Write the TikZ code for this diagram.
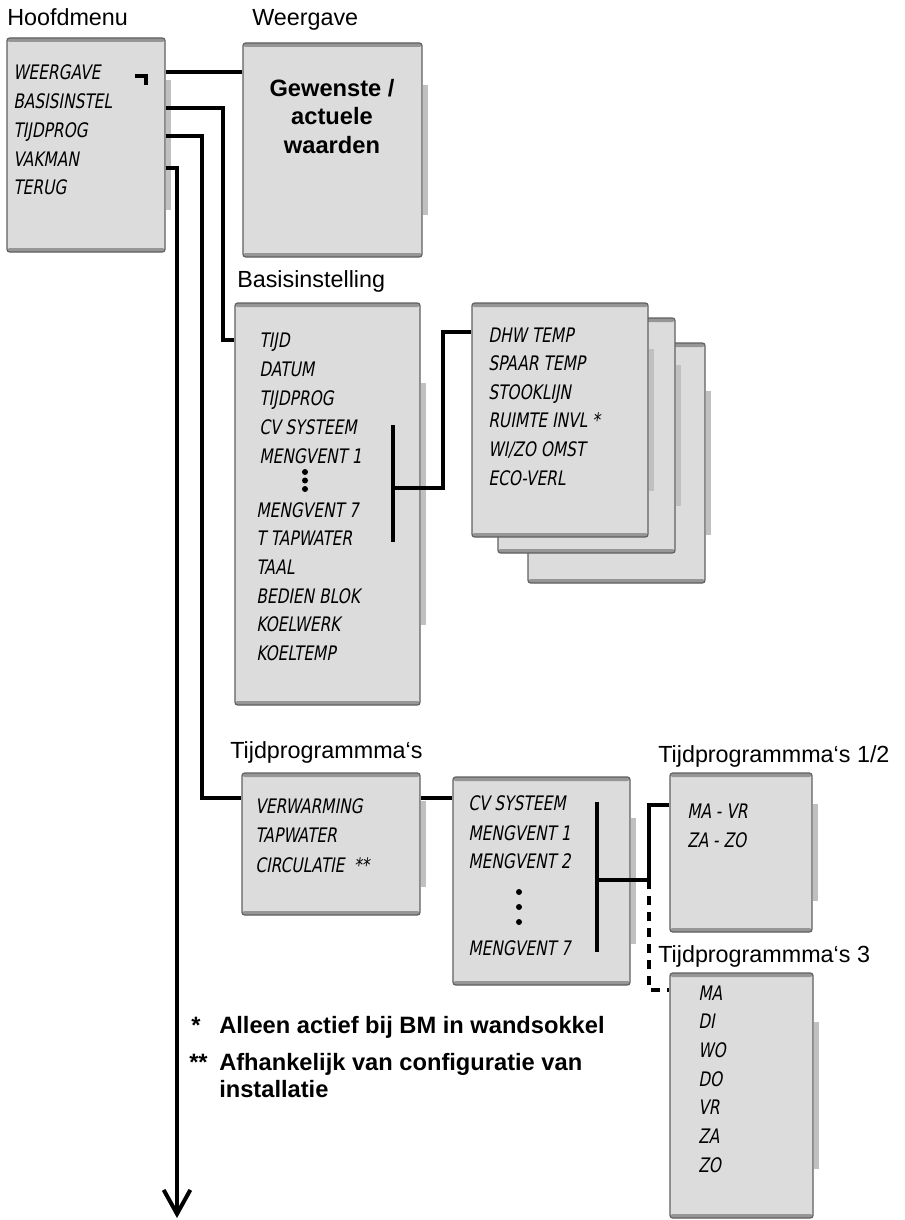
\documentclass[tikz,border=0pt]{standalone}
\usepackage{fontspec}
\setmainfont{Liberation Sans}
\newfontfamily\lcd[FakeSlant=0.18,FakeStretch=0.77]{DejaVu Sans}
\usetikzlibrary{arrows.meta, positioning, fit, calc}
\definecolor{lcdgray}{RGB}{220,220,220}
\definecolor{rimgray}{RGB}{96,96,96}
\definecolor{bandgray}{RGB}{150,150,150}
\definecolor{stripgray}{RGB}{192,192,192}

\begin{document}
\begin{tikzpicture}[x=0.75pt, y=-0.75pt,
    lcdscreen/.style={draw=rimgray, fill=lcdgray, line width=0.9pt, inner sep=0pt, rounded corners=2pt,
        path picture={
            \fill[bandgray] (path picture bounding box.north west) rectangle ([yshift=-3pt]path picture bounding box.north east);
            \fill[bandgray] (path picture bounding box.south west) rectangle ([yshift=3pt]path picture bounding box.south east);
        }},
    menutitle/.style={anchor=base west, inner sep=0pt, font=\fontsize{17.5}{21}\selectfont},
    entry/.style={anchor=base west, inner sep=0pt, font=\lcd\fontsize{15}{18}\selectfont},
    conn/.style={line width=3pt},
    strip/.style={fill=stripgray},
    listdot/.style={circle, fill=black, inner sep=0pt, minimum size=4.5pt},
    remark/.style={anchor=base west, inner sep=0pt, font=\bfseries\fontsize{17.75}{21}\selectfont}
]
    \useasboundingbox (0,0) rectangle (904,1220);

    % Screens
    \node[lcdscreen, fit={(7,38) (165,252)}]    (hoofd) {};
    \node[lcdscreen, fit={(243,43) (422,257)}]  (weer) {};
    \node[lcdscreen, fit={(235,303) (420,705)}] (basis) {};
    \node[lcdscreen, fit={(528,343) (705,583)}] (dhw3) {};
    \node[lcdscreen, fit={(498,318) (675,553)}] (dhw2) {};
    \node[lcdscreen, fit={(472,303) (648,537)}] (dhw1) {};
    \node[lcdscreen, fit={(242,773) (420,915)}] (tprog) {};
    \node[lcdscreen, fit={(453,777) (630,985)}] (tkan) {};
    \node[lcdscreen, fit={(670,773) (812,932)}] (tp12) {};
    \node[lcdscreen, fit={(670,973) (813,1218)}] (tp3) {};

    % Side strips
    \foreach \b in {hoofd, weer, basis, dhw3, dhw2, dhw1, tprog, tkan, tp12, tp3}
        \fill[strip] ($(\b.north east)!.2!(\b.south east)$) rectangle ($(\b.north east)!.8!(\b.south east)+(5,0)$);

    % Titles
    \node[menutitle] (thoofd) at (7,26)    {Hoofdmenu};
    \node[menutitle] (tweer)  at (252,26)  {Weergave};
    \node[menutitle] (tbasis) at (237,287) {Basisinstelling};
    \node[menutitle] (ttprog) at (230,758) {Tijdprogrammma‘s};
    \node[menutitle] (ttp12)  at (658,762) {Tijdprogrammma‘s 1/2};
    \node[menutitle] (ttp3)   at (658,962) {Tijdprogrammma‘s 3};

    % Hoofdmenu entries
    \foreach \t [count=\i] in {WEERGAVE, BASISINSTEL, TIJDPROG, VAKMAN, TERUG}
        \node[entry] (hm\i) at (13, 51.25+28.75*\i) {\t};
    \draw[line width=3pt] (135,76.5) -- (145.5,76.5) -- (145.5,85);

    % Weergave
    \node[align=center, anchor=north, inner sep=0pt, font=\bfseries\fontsize{17.75}{21.4}\selectfont]
        (wtekst) at (332,79) {Gewenste /\\actuele\\waarden};

    % Basisinstelling entries
    \foreach \t/\xx/\yy [count=\i] in {TIJD/259/347, DATUM/259/376, TIJDPROG/259/405,
            CV SYSTEEM/259/434, MENGVENT 1/259/463, MENGVENT 7/256/517, T TAPWATER/256/545,
            TAAL/256/574, BEDIEN BLOK/256/603, KOELWERK/256/631, KOELTEMP/256/660}
        \node[entry] (bi\i) at (\xx,\yy) {\t};
    \foreach \yy [count=\i] in {472, 480.5, 489}
        \node[listdot] (bdot\i) at (305,\yy) {};

    % Mengvent screens
    \foreach \t [count=\i] in {DHW TEMP, SPAAR TEMP, STOOKLIJN, RUIMTE INVL *, WI/ZO OMST, ECO-VERL}
        \node[entry] (dh\i) at (488, 313.4+28.6*\i) {\t};

    % Tijdprogramma entries
    \foreach \t [count=\i] in {VERWARMING, TAPWATER, CIRCULATIE\hspace{7pt}**}
        \node[entry] (tg\i) at (255, 783.5+29.5*\i) {\t};
    \foreach \t/\yy [count=\i] in {CV SYSTEEM/810, MENGVENT 1/840, MENGVENT 2/868, MENGVENT 7/955}
        \node[entry] (tk\i) at (468,\yy) {\t};
    \foreach \yy [count=\i] in {892, 907, 922}
        \node[listdot] (tdot\i) at (519,\yy) {};
    \node[entry] (d1) at (687,818) {MA - VR};
    \node[entry] (d2) at (687,847) {ZA - ZO};
    \foreach \t [count=\i] in {MA, DI, WO, DO, VR, ZA, ZO}
        \node[entry] (dg\i) at (698, 971.33+28.67*\i) {\t};

    % Connectors
    \draw[conn] (hoofd.east |- 0,72) -- (weer.west |- 0,72);
    \draw[conn] (hoofd.east |- 0,108) -| (223,340) -- (basis.west |- 0,340);
    \draw[conn] (hoofd.east |- 0,136) -| (202,798) -- (tprog.west |- 0,798);
    \coordinate (uit) at (177,1218);
    \draw[conn, -{Straight Barb[length=18pt, width=20pt]}] (hoofd.east |- 0,168) -| (uit);

    \coordinate (bbtop) at (393,425);
    \coordinate (bbbot) at (393,542);
    \draw[conn] (bbtop) -- (bbbot);
    \draw[conn] (bbtop |- 0,488) -| (443,332) -- (dhw1.west |- 0,332);

    \draw[conn] (tprog.east |- 0,798) -- (tkan.west |- 0,798);
    \coordinate (cbtop) at (597,802);
    \coordinate (cbbot) at (597,952);
    \coordinate (split) at (649,880);
    \draw[conn] (cbtop) -- (cbbot);
    \draw[conn] (cbtop |- split) -- (split) |- (tp12.west |- 0,805);
    \draw[conn, dash pattern=on 7pt off 5pt] (split) |- (tp3.west |- 0,990);

    % Footnotes
    \node[remark] (st1) at (191,1033) {*};
    \node[remark] (tx1) at (219,1033) {Alleen actief bij BM in wandsokkel};
    \node[remark] (st2) at (189,1070) {**};
    \node[remark] (tx2) at (219,1070) {Afhankelijk van configuratie van};
    \node[remark] (tx3) at (219,1097) {installatie};
\end{tikzpicture}
\end{document}
